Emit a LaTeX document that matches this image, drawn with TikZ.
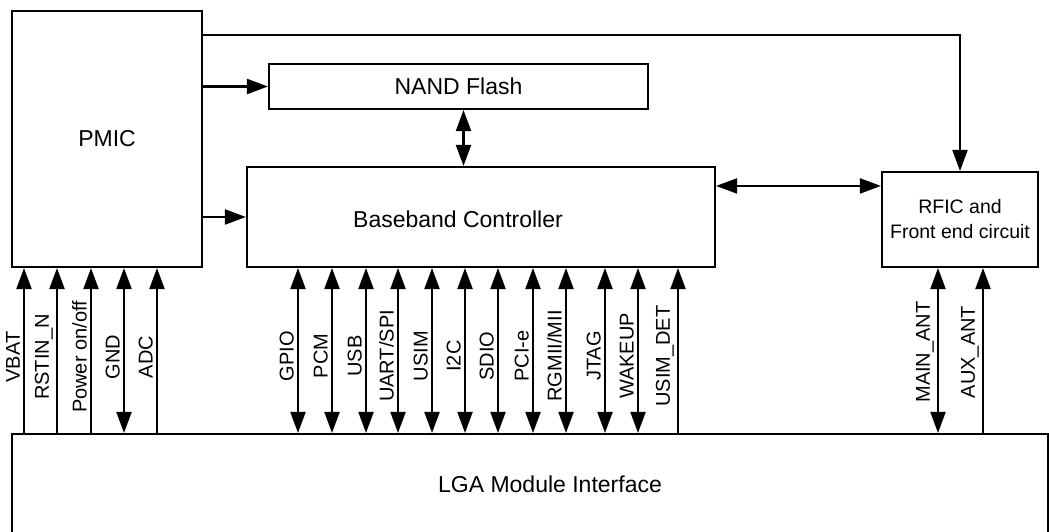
\documentclass[tikz,border=0pt]{standalone}
\usepackage{fontspec}
\setmainfont{Liberation Sans}
\usetikzlibrary{arrows.meta}

\begin{document}
\begin{tikzpicture}[x=1pt, y=-1pt,
                block/.style={rectangle, draw, line width=2.1pt, inner sep=0pt, font=\fontsize{23}{28}\selectfont},
                caption/.style={inner sep=0pt, font=\fontsize{23}{28}\selectfont},
                sig/.style={rotate=90, anchor=south, inner sep=0pt, font=\fontsize{20}{24}\selectfont},
                bus/.style={line width=2.1pt},
                up/.style={bus, -{Triangle[length=21pt, width=15pt]}},
                both/.style={bus, {Triangle[length=21pt, width=15pt]}-{Triangle[length=21pt, width=15pt]}},
            ]
            \useasboundingbox (0,0) rectangle (1049,532);

            % Nodes
            \node[block, minimum width=190pt, minimum height=256pt]   (pmic)      at (107,139)    {PMIC};
            \node[block, minimum width=379pt, minimum height=45pt]    (nand)      at (458.5,86.5) {NAND Flash};
            \node[block, minimum width=468pt, minimum height=100pt]   (baseband)  at (481,217)    {};
            \node[caption]                                            (bb_text)   at (458,219)    {Baseband Controller};
            \node[block, minimum width=156pt, minimum height=95pt, align=center,
                  font=\fontsize{19.5}{25}\selectfont]                (rfic)      at (960,219.5)  {RFIC and\\Front end circuit};
            \node[block, minimum width=1036pt, minimum height=130pt]  (lga)       at (530,499)    {};
            \node[caption]                                            (lga_text)  at (550,484)    {LGA Module Interface};

            %Lines
            \coordinate (pmic_rf) at ([yshift=-25pt]pmic.north east);
            \draw[up] (pmic_rf) -| (rfic.north);
            \draw[up] (pmic.east |- nand.west) -- (nand.west);
            \draw[up] (pmic.east |- baseband.west) -- (baseband.west);

            \coordinate (nand_bb) at ([xshift=5pt]nand.south);
            \draw[both] (nand_bb) -- (nand_bb |- baseband.north);

            \coordinate (bb_rf) at ([yshift=-15pt]rfic.north west);
            \draw[both] (bb_rf -| baseband.east) -- (bb_rf);

            % PMIC pins
            \foreach \x/\name/\tip in {24/VBAT/up, 57/RSTIN\_N/up, 91/{Power on/off}/up, 124/GND/both, 157/ADC/up}{
                \coordinate (pin) at (\x,0);
                \draw[\tip] (pin |- lga.north) -- (pin |- pmic.south);
                \node[sig] (pmic_pin\x) at (\x-4,357) {\name};
            }

            % Baseband pins
            \foreach \x/\name/\tip in {298/GPIO/both, 332/PCM/both, 366/USB/both, 398/{UART/SPI}/both,
                                       432/USIM/both, 465/I2C/both, 498/SDIO/both, 533/PCI-e/both,
                                       566/{RGMII/MII}/both, 605/JTAG/both, 638/WAKEUP/both, 678/USIM\_DET/up}{
                \coordinate (pin) at (\x,0);
                \draw[\tip] (pin |- lga.north) -- (pin |- baseband.south);
                \node[sig] (bb_pin\x) at (\x-4,356) {\name};
            }

            % Antenna pins
            \foreach \x/\name/\tip in {938/MAIN\_ANT/both, 983/AUX\_ANT/up}{
                \coordinate (pin) at (\x,0);
                \draw[\tip] (pin |- lga.north) -- (pin |- rfic.south);
                \node[sig] (rf_pin\x) at (\x-4,352) {\name};
            }
        \end{tikzpicture}
\end{document}
